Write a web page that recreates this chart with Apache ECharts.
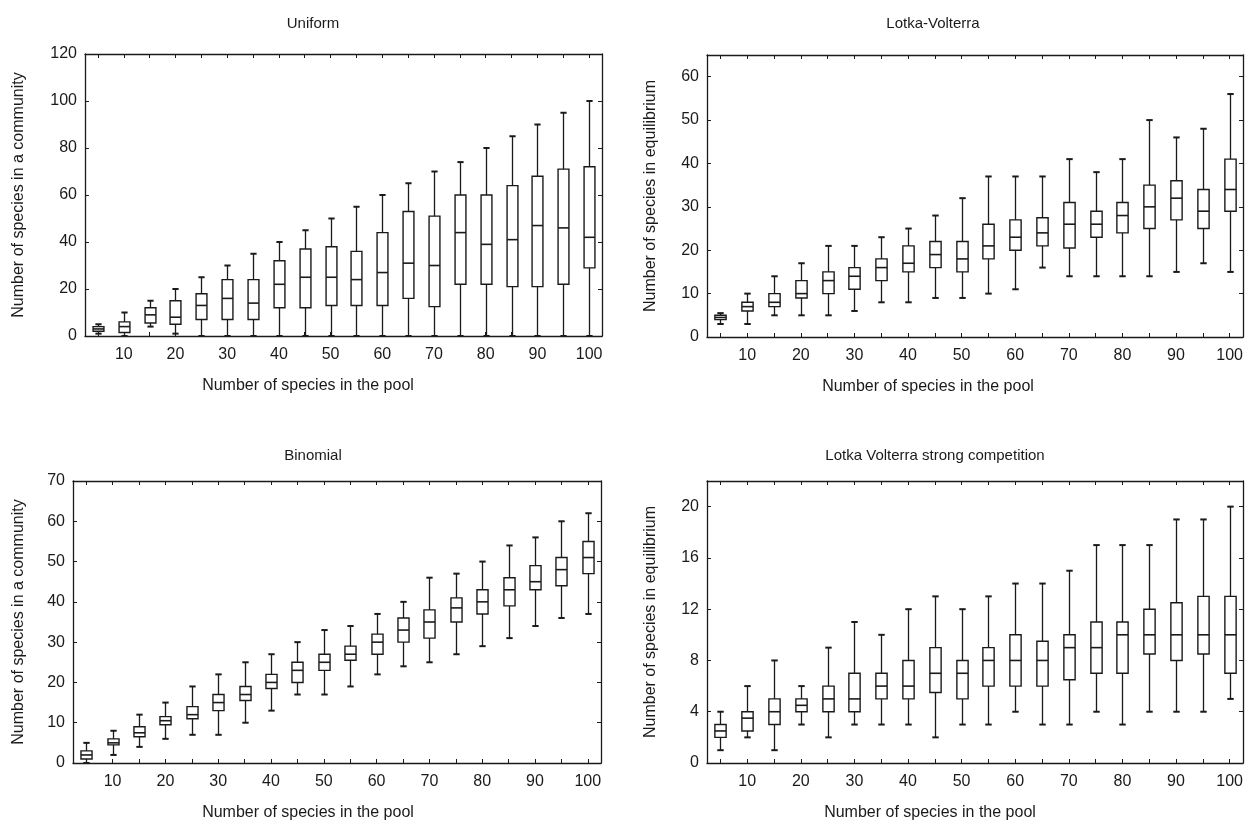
<!DOCTYPE html>
<html>
<head>
<meta charset="utf-8">
<script src="https://cdn.jsdelivr.net/npm/echarts@6/dist/echarts.min.js"></script>
<style>
html,body{margin:0;padding:0;background:#fff;}
#chart{width:1252px;height:829px;}
</style>
</head>
<body>
<div id="chart"></div>
<script>
// Categories: number of species in the pool
const poolSizes = ['5','10','15','20','25','30','35','40','45','50','55','60','65','70','75','80','85','90','95','100'];

// Each entry: [min, q1, median, q3, max]
const uniform = [
  [1,2,3,4,5],[0,1.5,4,6,10],[4,5.5,9,12,15],[1,5,8,15,20],[0,7,13,18,25],
  [0,7,16,24,30],[0,7,14,24,35],[0,12,22,32,40],[0,12,25,37,45],[0,13,25,38,50],
  [0,13,24,36,55],[0,13,27,44,60],[0,16,31,53,65],[0,12.5,30,51,70],[0,22,44,60,74],
  [0,22,39,60,80],[0,21,41,64,85],[0,21,47,68,90],[0,22,46,71,95],[0,29,42,72,100]
];
const lotkaVolterra = [
  [3,4,4.5,5,5.5],[3,6,7,8,10],[5,7,8,10,14],[5,9,10,13,17],[5,10,13,15,21],
  [6,11,14,16,21],[8,13,16,18,23],[8,15,17,21,25],[9,16,19,22,28],[9,15,18,22,32],
  [10,18,21,26,37],[11,20,23,27,37],[16,21,24,27.5,37],[14,20.5,26,31,41],[14,23,26,29,38],
  [14,24,28,31,41],[14,25,30,35,50],[15,27,32,36,46],[17,25,29,34,48],[15,29,34,41,56]
];
const binomial = [
  [0,1,2,3,5],[2,4.5,5,6,8],[4,6.5,7.5,9,12],[6,9.5,10.5,11.5,15],[7,11,12,14,19],
  [7,13,15,17,22],[10,15.5,17,19,25],[13,18.5,20,22,27],[17,20,23,25,30],[17,23,25,27,33],
  [19,25.5,27,29,34],[22,27,30,32,37],[24,30,33,36,40],[25,31,35,38,46],[27,35,38.5,41,47],
  [29,37,40,43,50],[31,39,43,46,54],[34,43,45,49,56],[36,44,48,51,60],[37,47,51,55,62]
];
const lvStrong = [
  [1,2,2.5,3,4],[2,2.5,3.5,4,6],[1,3,4,5,8],[3,4,4.5,5,6],[2,4,5,6,9],
  [3,4,5,7,11],[3,5,6,7,10],[3,5,6,8,12],[2,5.5,7,9,13],[3,5,7,8,12],
  [3,6,8,9,13],[4,6,8,10,14],[3,6,8,9.5,14],[3,6.5,9,10,15],[4,7,9,11,17],
  [3,7,10,11,17],[4,8.5,10,12,17],[4,8,10,12.5,19],[4,8.5,10,13,19],[5,7,10,13,20]
];

// Panel definitions (text + axis ranges)
const panelTitles = ['Uniform','Lotka-Volterra','Binomial','Lotka Volterra strong competition'];
const yNames = ['Number of species in a community','Number of species in equilibrium','Number of species in a community','Number of species in equilibrium'];
const xName = 'Number of species in the pool';
const yMax = [120, 65, 70, 22];
const yInterval = [20, 10, 10, 4];
const panelData = [uniform, lotkaVolterra, binomial, lvStrong];

// Layout
const grids = [
  {left:85,  top:54,  width:517, height:282},
  {left:707, top:55,  width:536, height:282},
  {left:73,  top:481, width:528, height:282},
  {left:707, top:481, width:536, height:282}
];
const titleX = [308, 928, 308, 930];
const titleY = [11, 11, 443, 443];
const yNameGap = [58, 48, 46, 48];

const FONT = 'Liberation Sans, Arial, sans-serif';
const INK = '#1a1a1a';

function renderBox(params, api) {
  const i = api.value(0);
  const pMin = api.coord([i, api.value(1)]);
  const pQ1 = api.coord([i, api.value(2)]);
  const pMd = api.coord([i, api.value(3)]);
  const pQ3 = api.coord([i, api.value(4)]);
  const pMax = api.coord([i, api.value(5)]);
  const band = api.size([1, 0])[0];
  const bw = band * 0.42;
  const cap = band * 0.24;
  const cx = Math.round(pMin[0]) + 0.5;
  const ls = {stroke: INK, lineWidth: 1.3};
  return {
    type: 'group',
    children: [
      {type:'line', shape:{x1:cx, y1:pMin[1], x2:cx, y2:pMax[1]}, style: ls},
      {type:'line', shape:{x1:cx-cap/2, y1:pMin[1], x2:cx+cap/2, y2:pMin[1]}, style:{stroke:INK, lineWidth:2}},
      {type:'line', shape:{x1:cx-cap/2, y1:pMax[1], x2:cx+cap/2, y2:pMax[1]}, style:{stroke:INK, lineWidth:2}},
      {type:'rect', shape:{x:cx-bw/2, y:pQ3[1], width:bw, height:pQ1[1]-pQ3[1]}, style:{fill:'#fff', stroke:INK, lineWidth:1.4}},
      {type:'line', shape:{x1:cx-bw/2, y1:pMd[1], x2:cx+bw/2, y2:pMd[1]}, style:{stroke:INK, lineWidth:1.6}}
    ]
  };
}

const option = {
  animation: false,
  backgroundColor: '#fff',
  title: panelTitles.map((t, k) => ({
    text: t, left: titleX[k], top: titleY[k], textAlign: 'center',
    textStyle: {fontFamily: FONT, fontSize: 15, fontWeight: 'normal', color: INK}
  })),
  grid: grids.map(g => Object.assign({containLabel: false}, g)),
  xAxis: [],
  yAxis: [],
  series: []
};

for (let k = 0; k < 4; k++) {
  const g = grids[k];
  const shift = (g.left + g.width / 2) - titleX[k];
  option.xAxis.push({
    type: 'category', gridIndex: k, data: poolSizes, position: 'bottom',
    boundaryGap: true,
    name: xName, nameLocation: 'middle', nameGap: 42,
    nameTextStyle: {fontFamily: FONT, fontSize: 16, color: INK, padding: [0, shift * 2, 0, 0]},
    axisLine: {onZero: false, lineStyle: {color: INK, width: 1.3}},
    axisTick: {show: true, inside: true, length: 4, interval: 0, alignWithLabel: true, lineStyle: {color: INK}},
    axisLabel: {interval: (idx) => idx % 2 === 1, fontFamily: FONT, fontSize: 16, color: INK, margin: 11},
    splitLine: {show: false}
  });
  option.xAxis.push({
    type: 'category', gridIndex: k, data: poolSizes, position: 'top',
    boundaryGap: true,
    axisLine: {onZero: false, lineStyle: {color: INK, width: 1.3}},
    axisTick: {show: true, inside: true, length: 4, interval: 0, alignWithLabel: true, lineStyle: {color: INK}},
    axisLabel: {show: false},
    splitLine: {show: false}
  });
  option.yAxis.push({
    type: 'value', gridIndex: k, min: 0, max: yMax[k], interval: yInterval[k], position: 'left',
    name: yNames[k], nameLocation: 'middle', nameGap: yNameGap[k],
    nameTextStyle: {fontFamily: FONT, fontSize: 16, color: INK},
    axisLine: {show: true, onZero: false, lineStyle: {color: INK, width: 1.3}},
    axisTick: {show: true, inside: true, length: 4, lineStyle: {color: INK}},
    axisLabel: {fontFamily: FONT, fontSize: 16, color: INK, margin: 8, showMaxLabel: yMax[k] % yInterval[k] === 0},
    splitLine: {show: false}
  });
  option.yAxis.push({
    type: 'value', gridIndex: k, min: 0, max: yMax[k], interval: yInterval[k], position: 'right',
    axisLine: {show: true, onZero: false, lineStyle: {color: INK, width: 1.3}},
    axisTick: {show: true, inside: true, length: 4, lineStyle: {color: INK}},
    axisLabel: {show: false},
    splitLine: {show: false}
  });
  option.series.push({
    type: 'custom', name: panelTitles[k],
    xAxisIndex: 2 * k, yAxisIndex: 2 * k,
    renderItem: renderBox,
    encode: {x: 0, y: [1, 2, 3, 4, 5]},
    data: panelData[k].map((v, i) => [i].concat(v))
  });
}

const chart = echarts.init(document.getElementById('chart'), null, {renderer: 'canvas'});
chart.setOption(option);
</script>
</body>
</html>
